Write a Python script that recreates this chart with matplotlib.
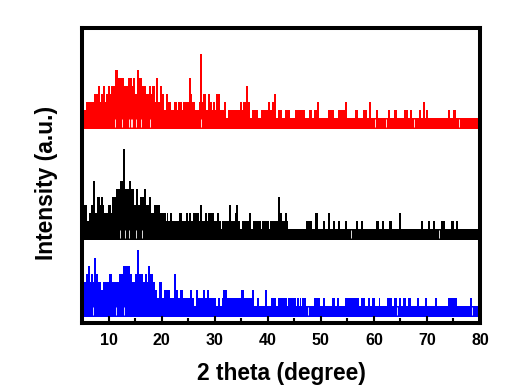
import matplotlib
matplotlib.use('Agg')
import matplotlib.pyplot as plt
import numpy as np

plt.rcParams['font.family'] = ['Liberation Sans', 'DejaVu Sans']
plt.rcParams['font.weight'] = 'bold'

# Each pattern is a staircase: (angle where the step starts, intensity level)
red_steps = [(5.0,2),(5.76,3),(7.26,4),(8.02,5),(8.39,3),(8.58,4),(8.96,5),(9.34,3),(9.52,4),(9.90,5),
             (10.28,4),(10.47,5),(11.22,7),(11.79,6),(12.92,5),(13.67,6),(14.42,5),(14.61,6),(14.99,4),(15.37,7),
             (15.74,6),(16.31,5),(17.06,4),(17.63,5),(18.0,4),(18.19,5),(18.76,3),(18.95,6),(19.32,3),(19.70,5),
             (20.08,4),(20.45,2),(20.83,4),(21.21,3),(21.77,2),(22.34,3),(22.90,2),(23.09,3),(23.85,2),(24.03,3),
             (25.16,6),(25.54,4),(25.73,3),(26.30,2),(27.05,3),(27.24,9),(27.61,3),(27.80,4),(28.37,2),(28.74,4),
             (29.12,3),(29.50,2),(29.69,3),(30.06,2),(30.25,4),(31.0,2),(31.76,3),(32.14,1),(32.51,2),(34.77,3),
             (35.15,2),(35.34,3),(35.91,5),(36.28,3),(36.66,1),(37.04,2),(38.17,1),(38.73,2),(40.05,3),(40.43,2),
             (40.80,3),(41.18,4),(41.56,1),(41.94,2),(42.69,1),(43.25,2),(44.2,1),(45.14,2),(47.02,1),(47.77,2),
             (48.34,1),(48.72,2),(49.28,3),(49.66,1),(51.36,2),(52.49,1),(53.24,2),(54.56,3),
             (54.94,1),(56.44,2),(57.0,1),(57.95,2),(58.7,1),(59.08,3),(59.46,1),(60.40,2),(60.78,1),(62.66,2),
             (63.04,1),(63.79,2),(64.36,1),(65.68,2),(66.43,1),(66.81,2),(67.18,1),(68.50,2),(68.88,1),(69.26,3),
             (69.64,1),(69.82,2),(70.2,1),(73.97,2),(74.35,1),(74.91,2),(75.47,1),(80.0,1)]
red_gaps = [11.2,12.5,13.9,14.2,14.5,15.2,16.1,17.8,27.4,60.2,62.3,67.6,76.0]

black_steps = [(5.0,4),(5.94,2),(6.32,3),(6.70,4),(7.07,7),(7.45,3),(7.83,5),(8.39,4),(8.58,5),(8.96,4),
               (9.15,3),(9.90,4),(10.47,3),(10.65,5),(11.41,6),(12.16,7),(12.73,11),(13.10,6),(13.86,7),(14.23,6),
               (14.80,4),(15.18,6),(15.55,4),(15.93,5),(16.68,6),(17.06,4),(17.63,5),(18.0,3),(18.57,4),(19.70,3),
               (20.83,2),(21.02,3),(21.21,2),(21.58,3),(21.96,2),(23.28,3),(23.85,2),(24.60,3),(24.98,2),(25.16,3),
               (25.54,2),(25.92,3),(27.05,2),(27.24,4),(27.61,2),(28.18,3),(28.56,2),(28.74,3),(29.88,2),(30.44,3),
               (30.82,2),(31.19,1),(31.38,2),(32.70,4),(33.08,2),(33.83,3),(34.02,4),(34.40,2),(34.77,1),(35.15,2),
               (36.47,3),(36.85,1),(37.22,2),(38.73,1),(38.92,2),(40.24,1),(40.43,2),(41.94,5),(42.31,3),(42.69,2),
               (43.25,3),(43.63,2),(43.82,1),(47.21,2),(48.34,1),(48.91,3),(49.47,1),(50.41,2),(50.79,1),(51.36,3),
               (51.73,1),(52.30,2),(52.67,1),(53.24,2),(53.62,1),(54.56,2),(54.94,1),(56.63,2),(57.01,1),(57.57,2),
               (57.95,1),(60.40,2),(60.97,1),(61.53,2),(61.91,1),(62.85,2),(63.42,1),(64.73,3),(65.11,1),(68.88,2),
               (69.26,1),(70.2,2),(70.58,1),(71.14,2),(71.52,1),(72.65,2),(73.40,1),(74.53,2),(75.10,1),(75.48,2),
               (75.85,1),(80.0,1)]
black_gaps = [12.2,13.1,13.9,15.2,16.4,55.7,72.3]

blue_steps = [(5.0,5),(5.38,4),(5.76,5),(6.13,6),(6.51,4),(6.70,5),(7.07,4),(7.26,7),(7.64,5),(8.02,4),
              (8.58,3),(8.96,4),(10.09,5),(10.65,4),(11.97,5),(12.73,6),(14.05,5),(14.42,4),(14.99,5),(15.37,8),
              (15.74,5),(16.50,4),(16.87,5),(17.25,4),(17.44,6),(17.81,5),(18.38,4),(18.76,3),(19.13,2),(19.51,4),
              (20.08,2),(20.45,3),(21.58,2),(22.34,5),(22.72,3),(23.09,2),(23.47,3),(24.03,2),(25.35,3),(25.73,2),
              (26.10,1),(26.48,3),(26.86,2),(27.80,3),(28.18,2),(28.56,3),(28.93,2),(30.25,1),(30.63,2),(31.0,1),
              (31.38,2),(31.57,3),(32.33,2),(34.96,3),(35.53,2),(37.04,3),(37.41,1),(37.98,2),(38.36,1),(39.49,3),
              (39.86,1),(40.62,2),(41.56,1),(41.94,2),(43.63,1),(43.82,2),(45.32,1),(45.51,2),(45.89,1),(46.08,2),
              (46.27,1),(46.46,2),(47.21,1),(48.72,2),(49.85,1),(50.41,2),(50.79,1),(52.11,2),(52.67,1),(53.05,2),
              (53.43,1),(54.56,2),(57.20,1),(57.57,2),(58.33,1),(58.89,2),(59.27,1),(59.65,2),(60.21,1),(60.97,2),
              (61.15,1),(62.47,2),(63.42,1),(63.79,2),(64.36,1),(64.73,2),(65.11,1),(65.49,2),(66.05,1),(66.43,2),
              (66.99,1),(68.13,2),(68.50,1),(69.63,2),(70.01,1),(71.52,2),(71.90,1),(73.97,2),(75.67,1),(78.11,2),
              (78.49,1),(80.0,1)]
blue_gaps = [7.1,11.5,13.0,47.6,64.4,78.4]

# vertical shift of each pattern
red_offset = 24.625
black_offset = 10.75
blue_offset = 1.125

series = [(red_steps, red_gaps, red_offset, '#ff0000'),
          (black_steps, black_gaps, black_offset, '#000000'),
          (blue_steps, blue_gaps, blue_offset, '#0000ff')]

fig = plt.figure(figsize=(5.1, 3.85), dpi=100)
ax = fig.add_axes([82/510, 1-323/385, (480-82)/510, (323-28)/385])

for steps, gaps, offset, color in series:
    angle = [s[0] for s in steps]
    level = np.array([s[1] for s in steps])
    ax.fill_between(angle, offset-0.4, level+offset, step='post', color=color, lw=0)
    ax.vlines(gaps, offset-0.1, offset+0.9, color='white', lw=0.6)

ax.set_xlim(5, 80)
ax.set_ylim(0, 36.875)
ax.set_xticks([10, 20, 30, 40, 50, 60, 70, 80])
ax.set_xticks([5, 15, 25, 35, 45, 55, 65, 75], minor=True)
ax.set_yticks([])
ax.tick_params(axis='x', which='major', direction='in', length=5, width=1.5, labelsize=11.5, pad=7)
ax.tick_params(axis='x', which='minor', direction='in', length=3.5, width=1.5)
for s in ax.spines.values():
    s.set_linewidth(2.9)

ax.set_xlabel('2 theta (degree)', fontsize=16.4, fontweight='bold', labelpad=10)
ax.set_ylabel('Intensity (a.u.)', fontsize=16.4, fontweight='bold', labelpad=17, y=0.475)

fig.savefig('out.png', dpi=100)
